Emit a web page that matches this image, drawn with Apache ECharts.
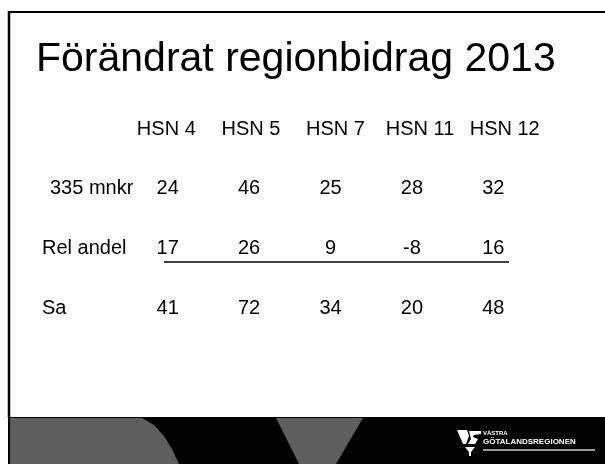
<!DOCTYPE html>
<html>
<head>
<meta charset="utf-8">
<script src="https://cdn.jsdelivr.net/npm/echarts@6/dist/echarts.min.js"></script>
<style>
  html, body { margin: 0; padding: 0; background: #fff; }
  #chart { width: 605px; height: 464px; }
</style>
</head>
<body>
<div id="chart"></div>
<script>
const titleText = 'Förändrat regionbidrag 2013';
const districts = ['HSN 4', 'HSN 5', 'HSN 7', 'HSN 11', 'HSN 12'];
const rowNames = ['335 mnkr', 'Rel andel', 'Sa'];
const mnkr = [24, 46, 25, 28, 32];
const relAndel = [17, 26, 9, -8, 16];
const sa = [41, 72, 34, 20, 48];

const rowValues = [mnkr, relAndel, sa];
const font = 'Arial, "Liberation Sans", sans-serif';

// one cell per (column, row) -> label drawn at the category position
const cells = [];
rowValues.forEach((vals, r) => {
  vals.forEach((v, c) => cells.push([c, r, v]));
});

const chart = echarts.init(document.getElementById('chart'));

chart.setOption({
  animation: false,
  backgroundColor: '#fff',
  title: {
    text: titleText,
    left: 36,
    top: 39,
    padding: 0,
    textStyle: { fontFamily: font, fontSize: 41, fontWeight: 'normal', color: '#000' }
  },
  grid: [
    { left: 124, top: 159, width: 423, height: 179 },
    { left: 127, top: 159, width: 407, height: 179 }
  ],
  xAxis: [
    {
      gridIndex: 0,
      type: 'category',
      data: districts,
      position: 'top',
      axisLine: { show: false },
      axisTick: { show: false },
      splitLine: { show: false },
      axisLabel: { interval: 0, color: '#000', fontFamily: font, fontSize: 20, margin: 20 }
    },
    { gridIndex: 1, type: 'category', data: districts, show: false }
  ],
  yAxis: [
    { gridIndex: 0, type: 'category', data: rowNames, inverse: true, show: false },
    {
      gridIndex: 1,
      type: 'category',
      data: rowNames,
      inverse: true,
      axisLine: { show: false },
      axisTick: { show: false },
      splitLine: { show: false },
      axisLabel: {
        interval: 0,
        align: 'left',
        margin: 85,
        color: '#000',
        fontFamily: font,
        fontSize: 20,
        formatter: (v, i) => (i === 0 ? '{ind|' + v + '}' : v),
        rich: {
          ind: { padding: [0, 0, 0, 8], color: '#000', fontFamily: font, fontSize: 20 }
        }
      }
    }
  ],
  series: [
    {
      type: 'scatter',
      xAxisIndex: 1,
      yAxisIndex: 1,
      data: cells,
      symbolSize: 1,
      silent: true,
      itemStyle: { color: 'rgba(0,0,0,0)', opacity: 1 },
      label: {
        show: true,
        position: 'inside',
        formatter: (p) => String(p.value[2]),
        color: '#000',
        fontFamily: font,
        fontSize: 20
      }
    }
  ],
  graphic: [
    // slide frame
    { type: 'line', shape: { x1: 8, y1: 12, x2: 605, y2: 12 }, style: { stroke: '#000', lineWidth: 2 } },
    { type: 'line', shape: { x1: 9, y1: 11, x2: 9, y2: 418 }, style: { stroke: '#000', lineWidth: 2.5 } },
    // underline of the "Rel andel" row
    { type: 'line', shape: { x1: 164, y1: 262, x2: 509, y2: 262 }, style: { stroke: '#000', lineWidth: 1.5 } },
    // footer band
    { type: 'rect', shape: { x: 8, y: 417, width: 597, height: 47 }, style: { fill: '#000' } },
    {
      type: 'polygon',
      shape: { points: [[10, 418], [142, 418], [154, 425], [164, 436], [172, 449], [179, 464], [10, 464]] },
      style: { fill: '#5e5e5e' }
    },
    {
      type: 'polygon',
      shape: { points: [[276, 418], [363, 418], [336, 464], [299, 464]] },
      style: { fill: '#5e5e5e' }
    },
    // logo
    {
      type: 'polygon',
      shape: { points: [[457, 430], [467, 430], [469, 436], [466, 444], [463, 444]] },
      style: { fill: '#fff' }
    },
    {
      type: 'polygon',
      shape: { points: [[469, 431], [481, 431], [481, 434], [474, 435], [473, 437], [478, 439], [475, 444], [468, 444], [471, 439]] },
      style: { fill: '#fff' }
    },
    {
      type: 'polygon',
      shape: { points: [[465, 447], [475, 447], [471, 452], [471, 456], [469, 456], [469, 452]] },
      style: { fill: '#fff' }
    },
    {
      type: 'text',
      left: 483,
      top: 430,
      style: { text: 'VÄSTRA', fill: '#fff', font: 'bold 6px ' + font }
    },
    {
      type: 'text',
      left: 483,
      top: 438,
      style: { text: 'GÖTALANDSREGIONEN', fill: '#fff', font: 'bold 8px ' + font }
    },
    { type: 'rect', shape: { x: 483, y: 449, width: 112, height: 2 }, style: { fill: '#9a9a9a' } }
  ]
});
</script>
</body>
</html>
